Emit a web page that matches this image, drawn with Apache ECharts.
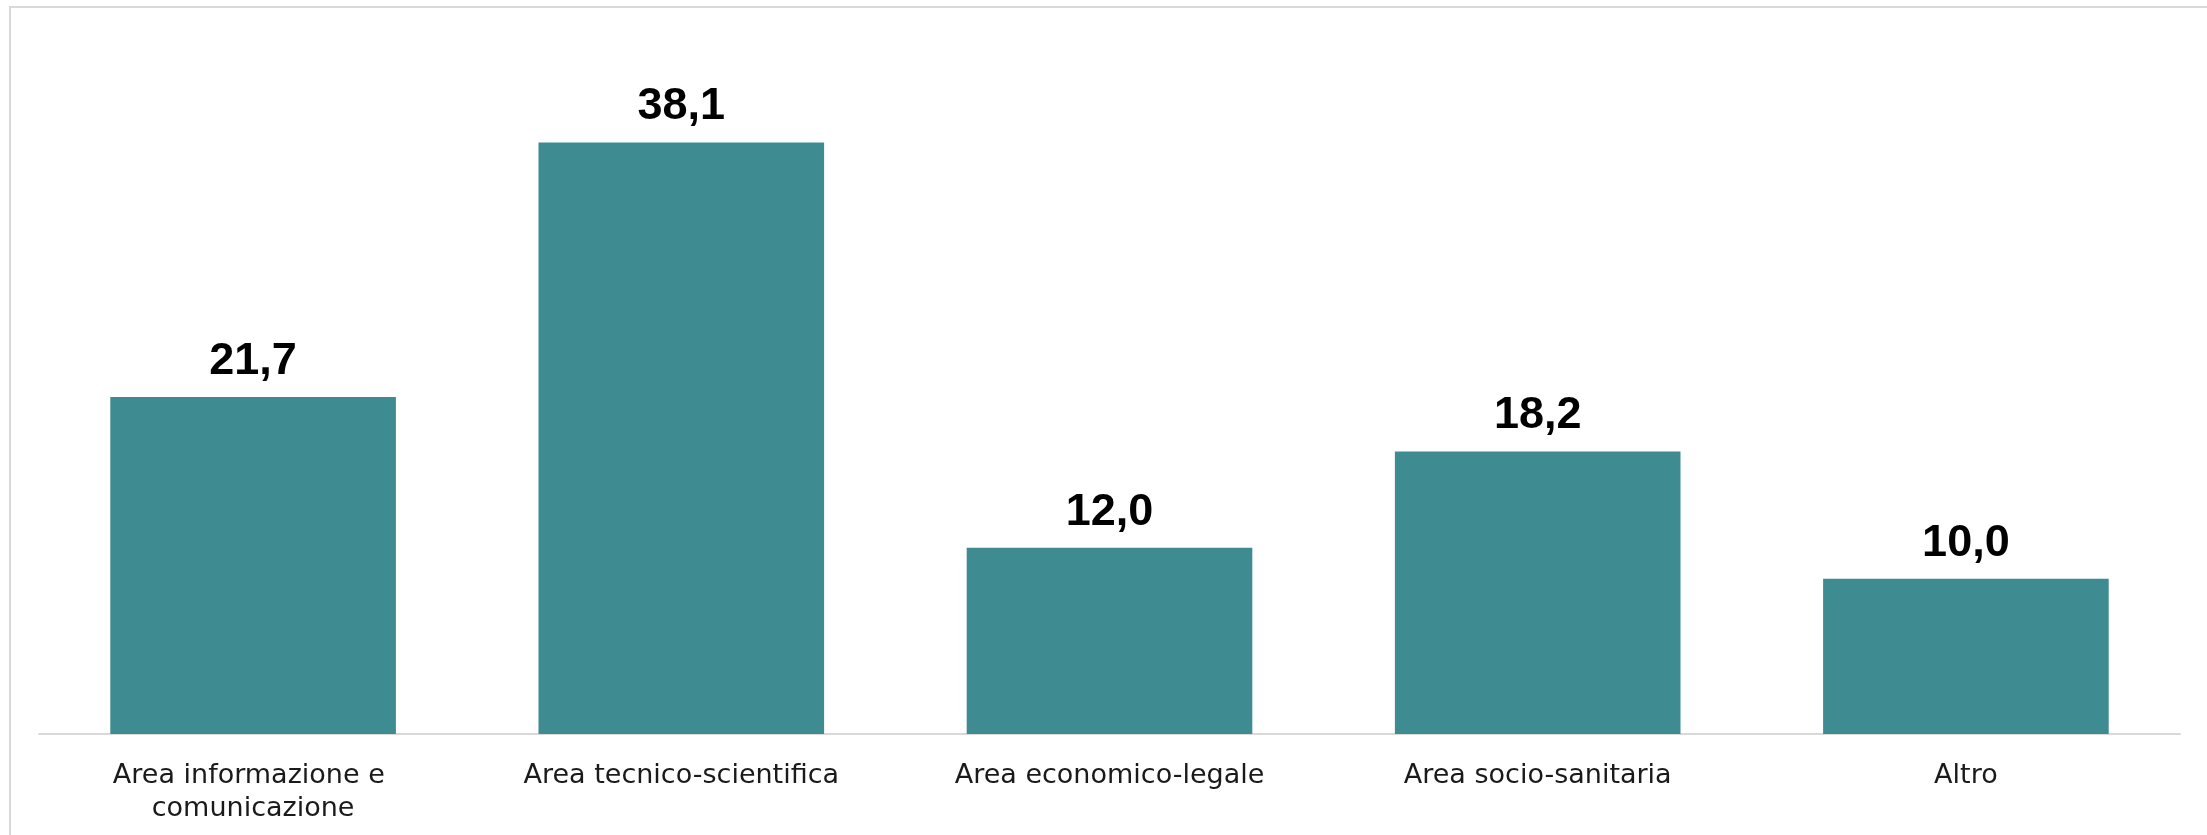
<!DOCTYPE html>
<html>
<head>
<meta charset="utf-8">
<script src="https://cdn.jsdelivr.net/npm/echarts@6/dist/echarts.min.js"></script>
<style>
  html, body { margin: 0; padding: 0; background: #fff; }
  #chart { width: 2207px; height: 835px; position: absolute; left: 0; top: 0; }
  #frame { position: absolute; left: 9px; top: 6px; width: 2300px; height: 900px;
           border: 2px solid #d9d9d9; box-sizing: border-box; pointer-events: none; }
</style>
</head>
<body>
<div id="chart"></div>
<div id="frame"></div>
<script>
const categories = [
  "Area informazione e comunicazione",
  "Area tecnico-scientifica",
  "Area economico-legale",
  "Area socio-sanitaria",
  "Altro"
];
const values = [21.7, 38.1, 12.0, 18.2, 10.0];

const chart = echarts.init(document.getElementById('chart'), null, { renderer: 'canvas' });
chart.setOption({
  animation: false,
  backgroundColor: '#ffffff',
  grid: { left: 39, right: 27, top: 113, bottom: 101, containLabel: false },
  xAxis: {
    type: 'category',
    data: categories,
    axisLine: { show: true, lineStyle: { color: '#d9d9d9', width: 2 } },
    axisTick: { show: false },
    axisLabel: {
      interval: 0,
      margin: 25,
      color: '#1a1a1a',
      fontFamily: 'DejaVu Sans',
      fontSize: 27,
      lineHeight: 33,
      width: 400,
      overflow: 'break'
    }
  },
  yAxis: {
    type: 'value',
    min: 0,
    max: 40,
    show: false,
    splitLine: { show: false }
  },
  series: [{
    type: 'bar',
    data: values,
    barCategoryGap: '33.3%',
    itemStyle: { color: '#3E8B91' },
    label: {
      show: true,
      position: 'top',
      distance: 13,
      color: '#000000',
      fontFamily: 'Liberation Sans',
      fontWeight: 'bold',
      fontSize: 45,
      formatter: p => p.value.toFixed(1).replace('.', ',')
    }
  }]
});
</script>
</body>
</html>
